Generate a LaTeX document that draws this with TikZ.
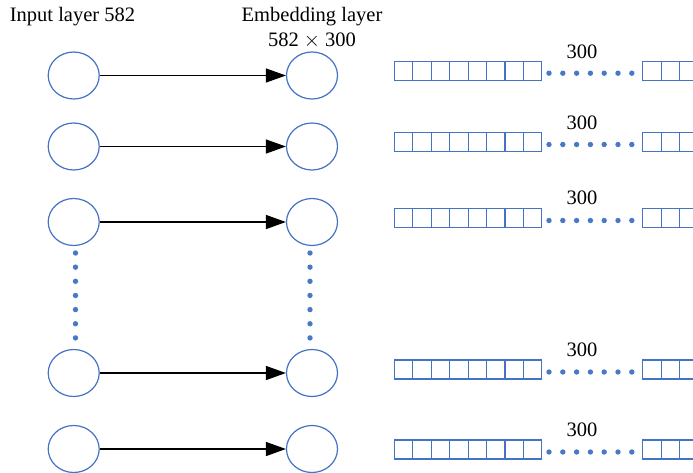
\documentclass[tikz,border=0pt]{standalone}
\usepackage{fontspec}
\setmainfont{Liberation Serif}
\usetikzlibrary{arrows.meta,shapes.geometric}
\definecolor{unitblue}{HTML}{4472C4}
\definecolor{dotblue}{HTML}{4A78C8}
\begin{document}
\begin{tikzpicture}[x=1pt,y=-1pt,
  unit/.style={ellipse, draw=unitblue, line width=1.2pt, minimum width=51pt, minimum height=47pt, inner sep=0pt},
  cell/.style={draw=unitblue, line width=1.1pt, minimum width=18.45pt, minimum height=19pt, inner sep=0pt},
  bead/.style={circle, fill=dotblue, inner sep=0pt, minimum size=5.4pt},
  link/.style={line width=1.3pt, -{Triangle[length=20pt,width=14pt]}},
  lbl/.style={font=\fontsize{20.5}{24}\selectfont, inner sep=0pt, anchor=base}]
\useasboundingbox (0,0) rectangle (693,472);
\clip (0,0) rectangle (693,472);

% column headings
\node[lbl] (inhead) at (72.5,21.8) {Input layer 582};
\node[lbl] (embhead) at (312,21.8) {Embedding layer};
\node[lbl] (embsize) at (312,46.5) {582 $\times$ 300};

% rows: input unit, embedding unit, embedding vector
\foreach \i/\ey/\sy/\ly in {1/75.5/70.7/58.3, 2/146.5/142/129, 3/222/218/204.3, 4/373/369.5/356.7, 5/449/449.5/436.7}{
  \node[unit] (in\i) at (73.7,\ey) {};
  \node[unit] (emb\i) at (312,\ey) {};
  \draw[link] (in\i) -- (emb\i);
  \foreach \k in {0,...,7}
    \node[cell] (c\i-\k) at ({403.5+\k*18.45},\sy) {};
  \foreach \k in {0,1,2}
    \node[cell] (d\i-\k) at ({651.9+\k*18.45},\sy) {};
  \foreach \j in {0,...,6}
    \node[bead] (h\i-\j) at ({549+\j*13.8},{\sy+2.5}) {};
  \node[lbl] (dim\i) at (582,\ly) {300};
}

% elided units between the third and fourth rows
\foreach \m in {0,...,6}{
  \node[bead] (vi\m) at (75.5,{253+\m*14.15}) {};
  \node[bead] (ve\m) at (310,{253+\m*14.15}) {};
}
\end{tikzpicture}
\end{document}
